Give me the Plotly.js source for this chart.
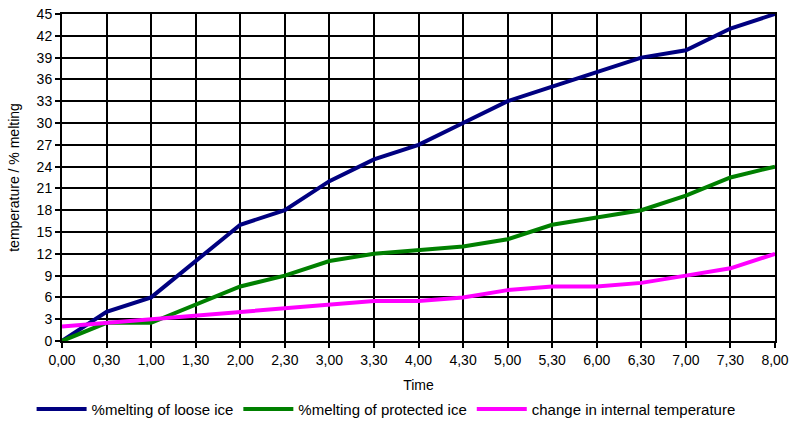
<!DOCTYPE html>
<html>
<head>
<meta charset="utf-8">
<script src="https://cdn.plot.ly/plotly-3.0.1.min.js"></script>
<style>html,body{margin:0;padding:0;background:#fff;}#chart{width:790px;height:424px;}</style>
</head>
<body>
<div id="chart"></div>
<script>
var timeLabels = ["0,00","0,30","1,00","1,30","2,00","2,30","3,00","3,30","4,00","4,30","5,00","5,30","6,00","6,30","7,00","7,30","8,00"];
var looseIce = [0, 4, 6, 11, 16, 18, 22, 25, 27, 30, 33, 35, 37, 39, 40, 43, 45];
var protectedIce = [0, 2.5, 2.5, 5, 7.5, 9, 11, 12, 12.5, 13, 14, 16, 17, 18, 20, 22.5, 24];
var internalTemp = [2, 2.5, 3, 3.5, 4, 4.5, 5, 5.5, 5.5, 6, 7, 7.5, 7.5, 8, 9, 10, 12];
var seriesNames = ["%melting of loose ice", "%melting of protected ice", "change in internal temperature"];
var yTicks = [0,3,6,9,12,15,18,21,24,27,30,33,36,39,42,45];

var xIdx = timeLabels.map(function(_, i){ return i; });
var colors = ["#000080", "#008000", "#FF00FF"];
var data = [looseIce, protectedIce, internalTemp].map(function(vals, k){
  return {x: xIdx, y: vals, type: "scatter", mode: "lines", name: seriesNames[k],
          line: {color: colors[k], width: 4}};
});

var font = {family: "Liberation Sans, Arial, sans-serif", size: 14, color: "#000"};
var layout = {
  width: 790, height: 424,
  margin: {l: 62, r: 15, t: 14, b: 83, autoexpand: false},
  paper_bgcolor: "#fff", plot_bgcolor: "#fff",
  font: font,
  showlegend: true,
  xaxis: {
    range: [0, 16], tickvals: xIdx, ticktext: timeLabels,
    showgrid: true, gridcolor: "#000", gridwidth: 2,
    ticks: "outside", ticklen: 5, tickcolor: "#000", tickwidth: 2,
    showline: true, linecolor: "#000", linewidth: 2, mirror: true,
    zeroline: false, tickfont: font, automargin: false,
    title: {text: "Time", font: font, standoff: 14}
  },
  yaxis: {
    range: [0, 45], tickvals: yTicks,
    showgrid: true, gridcolor: "#000", gridwidth: 2,
    ticks: "outside", ticklen: 5, tickcolor: "#000", tickwidth: 2,
    showline: true, linecolor: "#000", linewidth: 2, mirror: true,
    zeroline: false, tickfont: font, automargin: false,
    title: {text: "temperature / % melting", font: font, standoff: 14}
  },
  legend: {
    orientation: "h", xref: "container", x: 0.04, xanchor: "left",
    yref: "container", y: 0.035, yanchor: "middle",
    font: {family: font.family, size: 15, color: "#000"}, bgcolor: "rgba(0,0,0,0)",
    itemwidth: 50
  }
};
Plotly.newPlot("chart", data, layout, {staticPlot: true, displayModeBar: false});
</script>
</body>
</html>
